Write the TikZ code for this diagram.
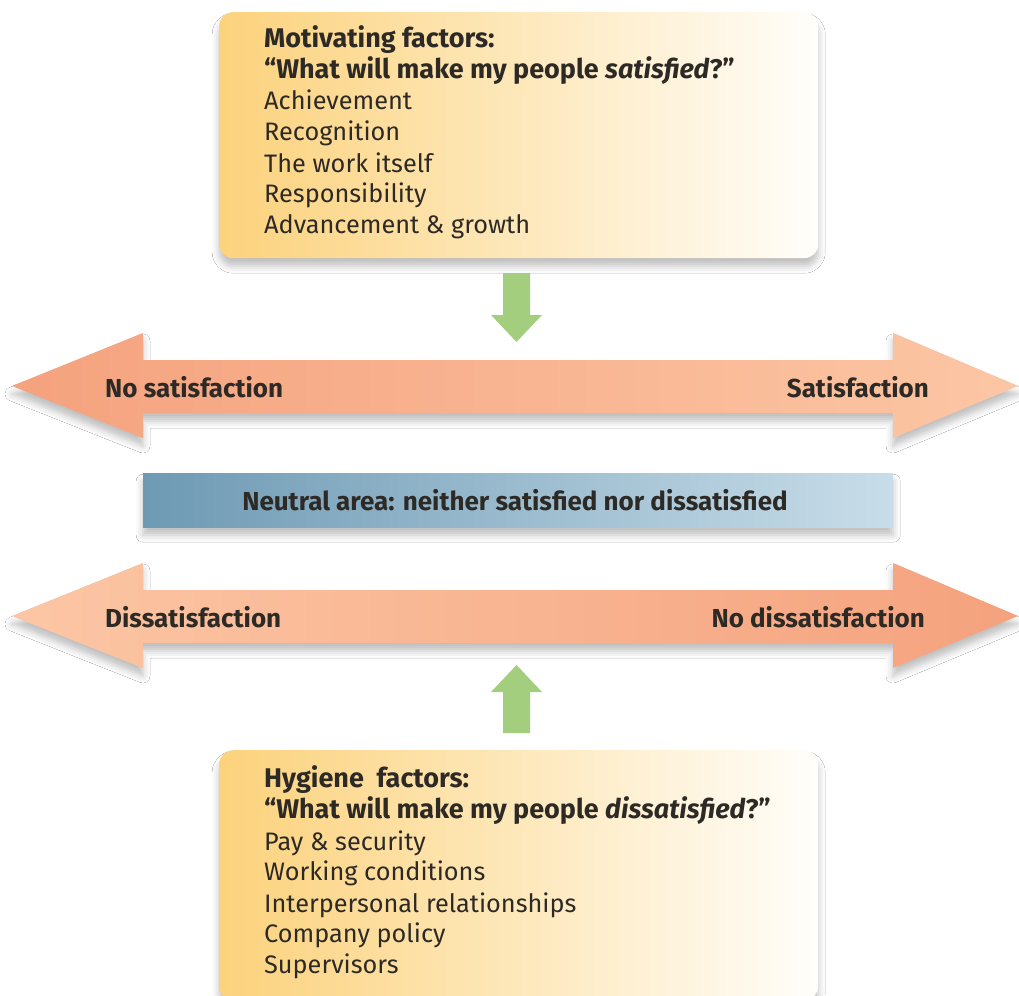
\documentclass[tikz,border=0pt]{standalone}
\usepackage{fontspec}
\setmainfont{Fira Sans}
\usetikzlibrary{shadows.blur}
\definecolor{ink}{HTML}{2D2A26}
\definecolor{cardL}{HTML}{FCD27C}
\definecolor{cardM}{HTML}{FFEDC0}
\definecolor{cardR}{HTML}{FFFEFA}
\definecolor{orDark}{HTML}{F5A27E}
\definecolor{orLight}{HTML}{FCC6A4}
\definecolor{blueL}{HTML}{6E9AB4}
\definecolor{blueR}{HTML}{C8DDE9}
\definecolor{leaf}{HTML}{A3CE7D}
\tikzset{
  softshadow/.style={blur shadow={shadow xshift=0pt,shadow yshift=-8pt,shadow blur radius=7pt,shadow opacity=25}},
  card/.style={rounded corners=14pt,left color=cardL,middle color=cardM,right color=cardR,softshadow,inner sep=0pt,draw=none},
  item/.style={anchor=base west,inner sep=0pt,text=ink,font=\fontsize{25.3}{30}\selectfont},
  head/.style={item,font=\fontsize{27}{30}\selectfont\bfseries},
  lbl/.style={inner sep=0pt,text=ink,font=\fontsize{26}{30}\selectfont\bfseries},
  greenarrow/.style={fill=leaf,draw=none},
}
\begin{document}
\begin{tikzpicture}[x=1pt,y=-1pt]
\useasboundingbox (0,0) rectangle (1019,995);
\fill[white] (0,0) rectangle (1019,995);

% top card
\node[card,minimum width=599pt,minimum height=246pt,anchor=north west] (topcard) at (219,12) {};
\node[head] (t1) at (264,48) {Motivating factors:};
\node[head] (t2) at (264,79) {“What will make my people \textit{satisfied}?”};
\node[item] (t3) at (264,110) {Achievement};
\node[item] (t4) at (264,141) {Recognition};
\node[item] (t5) at (264,172) {The work itself};
\node[item] (t6) at (264,202) {Responsibility};
\node[item] (t7) at (264,233) {Advancement \& growth};

% green down arrow
\path[greenarrow] (503,273) -- (530,273) -- (530,315) -- (542,315) -- (516.5,342) -- (491,315) -- (503,315) -- cycle;

% upper double arrow
\path[left color=orDark,right color=orLight,softshadow]
  (12,386) -- (143,333) -- (143,360) -- (893,360) -- (893,333) -- (1018,386)
  -- (893,438) -- (893,413) -- (143,413) -- (143,438) -- cycle;
\node[lbl,anchor=west] (nosat) at (105,387) {No satisfaction};
\node[lbl,anchor=east] (sat) at (929,387) {Satisfaction};

% neutral bar
\node[left color=blueL,right color=blueR,softshadow,minimum width=750pt,minimum height=54pt,anchor=north west,inner sep=0pt] (neutral) at (143,473) {};
\node[lbl] (neutraltext) at (515,500) {Neutral area: neither satisfied nor dissatisfied};

% lower double arrow
\path[left color=orLight,right color=orDark,softshadow]
  (12,616) -- (143,563) -- (143,590) -- (893,590) -- (893,563) -- (1018,616)
  -- (893,668) -- (893,643) -- (143,643) -- (143,668) -- cycle;
\node[lbl,anchor=west] (dissat) at (105,617) {Dissatisfaction};
\node[lbl,anchor=east] (nodissat) at (925,617) {No dissatisfaction};

% green up arrow
\path[greenarrow] (503,733) -- (530,733) -- (530,692) -- (542,692) -- (516.5,665) -- (491,692) -- (503,692) -- cycle;

% bottom card
\node[card,minimum width=599pt,minimum height=250pt,anchor=north west] (botcard) at (219,750) {};
\node[head] (b1) at (264,787) {Hygiene\ \ factors:};
\node[head] (b2) at (264,818) {“What will make my people \textit{dissatisfied}?”};
\node[item] (b3) at (264,850) {Pay \& security};
\node[item] (b4) at (264,880) {Working conditions};
\node[item] (b5) at (264,912) {Interpersonal relationships};
\node[item] (b6) at (264,942) {Company policy};
\node[item] (b7) at (264,973) {Supervisors};
\end{tikzpicture}
\end{document}
